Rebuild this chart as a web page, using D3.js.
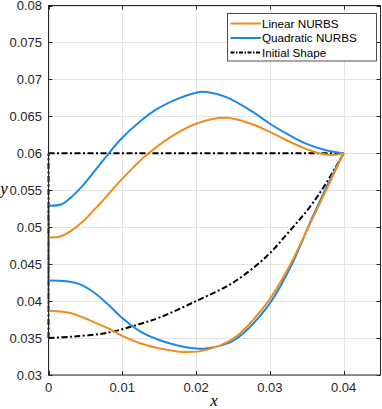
<!DOCTYPE html>
<html><head><meta charset="utf-8">
<script src="https://cdn.jsdelivr.net/npm/d3@7"></script>
<style>body{margin:0;background:#fff}svg{display:block}</style>
</head><body><svg id="c" width="382" height="409"></svg>
<script>
// ---- data ----
const xTicks = [0, 0.01, 0.02, 0.03, 0.04];
const xTickLabels = ["0", "0.01", "0.02", "0.03", "0.04"];
const yTicks = [0.03, 0.035, 0.04, 0.045, 0.05, 0.055, 0.06, 0.065, 0.07, 0.075, 0.08];
const yTickLabels = ["0.03", "0.035", "0.04", "0.045", "0.05", "0.055", "0.06", "0.065", "0.07", "0.075", "0.08"];
const seriesNames = ["Linear NURBS", "Quadratic NURBS", "Initial Shape"];

const linearUpperX = [0, 0.0015, 0.0029, 0.0047, 0.0069, 0.0092, 0.0115, 0.0132, 0.0164, 0.0200, 0.0241, 0.0277, 0.0300, 0.0322, 0.0349, 0.0372, 0.0390, 0.0400];
const linearUpperY = [0.0486, 0.0487, 0.0494, 0.0508, 0.0531, 0.0557, 0.0581, 0.0597, 0.0621, 0.0640, 0.0648, 0.0639, 0.0629, 0.0618, 0.0606, 0.0599, 0.0598, 0.0600];
const linearLowerX = [0, 0.0015, 0.0033, 0.0056, 0.0079, 0.0100, 0.0124, 0.0151, 0.0187, 0.0214, 0.0250, 0.0295, 0.0327, 0.0338, 0.0358, 0.0381, 0.0400];
const linearLowerY = [0.0387, 0.0386, 0.0383, 0.0374, 0.0364, 0.0353, 0.0343, 0.0336, 0.0331, 0.0334, 0.0349, 0.0396, 0.0448, 0.0470, 0.0512, 0.0560, 0.0600];

const quadUpperX = [0, 0.0018, 0.0029, 0.0047, 0.0069, 0.0081, 0.0097, 0.0124, 0.0144, 0.0164, 0.0200, 0.0214, 0.0241, 0.0277, 0.0300, 0.0322, 0.0349, 0.0376, 0.0400];
const quadUpperY = [0.0529, 0.0531, 0.0539, 0.0557, 0.0584, 0.0599, 0.0618, 0.0643, 0.0658, 0.0669, 0.0682, 0.0683, 0.0676, 0.0656, 0.0640, 0.0627, 0.0613, 0.0604, 0.0600];
const quadLowerX = [0, 0.0024, 0.0042, 0.0060, 0.0079, 0.0100, 0.0124, 0.0151, 0.0175, 0.0200, 0.0214, 0.0250, 0.0295, 0.0327, 0.0358, 0.0381, 0.0400];
const quadLowerY = [0.0428, 0.0427, 0.0423, 0.0413, 0.0397, 0.0377, 0.0359, 0.0347, 0.0340, 0.0336, 0.0336, 0.0346, 0.0390, 0.0444, 0.0514, 0.0563, 0.0600];

const initLowerX = [0, 0.0033, 0.0079, 0.0124, 0.0151, 0.0200, 0.0250, 0.0295, 0.0327, 0.0354, 0.0376, 0.0400];
const initLowerY = [0.0350, 0.0352, 0.0357, 0.0369, 0.0378, 0.0400, 0.0425, 0.0460, 0.0495, 0.0527, 0.0559, 0.0600];
const initUpperX = [0, 0.0400];
const initUpperY = [0.0600, 0.0600];

// ---- layout ----
const svg = d3.select("#c");
const L = 48.5, R = 380.5, T = 5.5, B = 375;
const x = d3.scaleLinear().domain([0, 0.045]).range([L, R]);
const y = d3.scaleLinear().domain([0.03, 0.08]).range([B, T]);
const orange = "#EF8C1E", blue = "#1E88E5";
const font = "'Liberation Sans', Arial, Helvetica, sans-serif";

// grid
const g = svg.append("g");
g.selectAll(".gx").data(xTicks).join("line")
  .attr("x1", d => Math.round(x(d)) + 0.5).attr("x2", d => Math.round(x(d)) + 0.5)
  .attr("y1", T).attr("y2", B).attr("stroke", "#e3e3e3").attr("stroke-width", 1);
g.selectAll(".gy").data(yTicks).join("line")
  .attr("y1", d => Math.round(y(d)) + 0.5).attr("y2", d => Math.round(y(d)) + 0.5)
  .attr("x1", L).attr("x2", R).attr("stroke", "#e3e3e3").attr("stroke-width", 1);

const pts = (xs, ys) => xs.map((v, i) => [v, ys[i]]);
const lineC = d3.line().x(d => x(d[0])).y(d => y(d[1])).curve(d3.curveCatmullRom.alpha(0.5));
const lineL = d3.line().x(d => x(d[0])).y(d => y(d[1]));

function drawSeries(upper, lower, color, dash) {
  const grp = svg.append("g").attr("fill", "none").attr("stroke", color).attr("stroke-width", 2)
    .attr("stroke-linejoin", "round");
  if (dash) grp.attr("stroke-dasharray", dash);
  grp.append("path").attr("d", lineL([[0, lower[0][1]], [0, upper[0][1]]]));
  grp.append("path").attr("d", (dash ? lineL : lineC)(upper));
  grp.append("path").attr("d", lineC(lower));
}
drawSeries(pts(initUpperX, initUpperY), pts(initLowerX, initLowerY), "#000", "6,2.5,2,2.5");
drawSeries(pts(quadUpperX, quadUpperY), pts(quadLowerX, quadLowerY), blue, null);
drawSeries(pts(linearUpperX, linearUpperY), pts(linearLowerX, linearLowerY), orange, null);

// box + ticks
const axc = "#262626";
svg.append("rect").attr("x", L).attr("y", T).attr("width", R - L).attr("height", B - T)
  .attr("fill", "none").attr("stroke", axc).attr("stroke-width", 1);
const tl = 4;
xTicks.forEach(d => {
  const px = Math.round(x(d)) + 0.5;
  svg.append("line").attr("x1", px).attr("x2", px).attr("y1", B).attr("y2", B - tl).attr("stroke", axc);
  svg.append("line").attr("x1", px).attr("x2", px).attr("y1", T).attr("y2", T + tl).attr("stroke", axc);
});
yTicks.forEach(d => {
  const py = Math.round(y(d)) + 0.5;
  svg.append("line").attr("x1", L).attr("x2", L + tl).attr("y1", py).attr("y2", py).attr("stroke", axc);
  svg.append("line").attr("x1", R).attr("x2", R - tl).attr("y1", py).attr("y2", py).attr("stroke", axc);
});
svg.selectAll(".xl").data(xTicks).join("text")
  .attr("x", d => x(d)).attr("y", 391.5).attr("text-anchor", "middle")
  .attr("font-family", font).attr("font-size", 13).attr("fill", axc)
  .text((d, i) => xTickLabels[i]);
svg.selectAll(".yl").data(yTicks).join("text")
  .attr("x", 42).attr("y", d => y(d) + 4.6).attr("text-anchor", "end")
  .attr("font-family", font).attr("font-size", 13).attr("fill", axc)
  .text((d, i) => yTickLabels[i]);

// axis labels
svg.append("text").attr("x", 214).attr("y", 406).attr("text-anchor", "middle")
  .attr("font-family", "'Liberation Serif', 'Times New Roman', serif").attr("font-style", "italic")
  .attr("font-size", 17).attr("fill", "#000").text("x");
svg.append("text").attr("x", 4).attr("y", 194).attr("text-anchor", "middle")
  .attr("font-family", "'Liberation Serif', 'Times New Roman', serif").attr("font-style", "italic")
  .attr("font-size", 17).attr("fill", "#000").text("y");

// legend
const lg = svg.append("g");
lg.append("rect").attr("x", 227.5).attr("y", 13.5).attr("width", 149).attr("height", 47.5)
  .attr("fill", "#fff").attr("stroke", axc).attr("stroke-width", 0.8);
const legColors = [orange, blue, "#000"];
const legDash = [null, null, "4,1.5,1.5,1.5"];
seriesNames.forEach((n, i) => {
  const cy = 23.5 + i * 14.5;
  const ln = lg.append("line").attr("x1", 230.5).attr("x2", 261).attr("y1", cy).attr("y2", cy)
    .attr("stroke", legColors[i]).attr("stroke-width", 2);
  if (legDash[i]) ln.attr("stroke-dasharray", legDash[i]);
  lg.append("text").attr("x", 262).attr("y", cy + 4.2).attr("font-family", font)
    .attr("font-size", 11.7).attr("fill", "#000").text(n);
});
</script></body></html>
